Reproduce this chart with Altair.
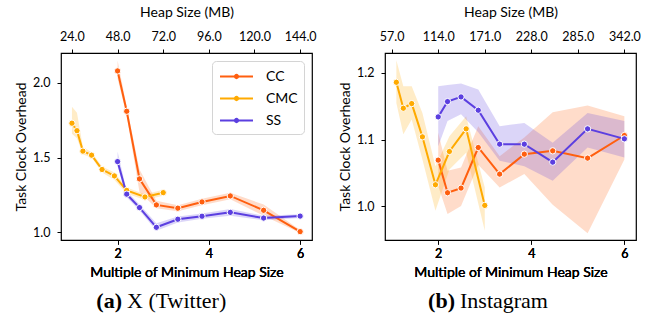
import altair as alt
import pandas as pd

series_names = ["CC", "CMC", "SS"]
series_colors = ["#FF5F0F", "#FFAA00", "#5B3FE0"]

# ---------------- Panel (a): X (Twitter) ----------------
a_min_heap = 24
a_cc_x = [2.0, 2.2, 2.48, 2.85, 3.32, 3.85, 4.47, 5.2, 6.0]
a_cc_y = [2.08, 1.81, 1.357, 1.183, 1.161, 1.203, 1.243, 1.147, 1.004]
a_cc_lo = [2.03, 1.78, 1.27, 1.16, 1.14, 1.18, 1.22, 1.11, 0.995]
a_cc_hi = [2.15, 1.84, 1.42, 1.21, 1.18, 1.225, 1.265, 1.185, 1.015]

a_cmc_x = [1.0, 1.11, 1.24, 1.43, 1.66, 1.93, 2.2, 2.6, 3.0]
a_cmc_y = [1.73, 1.68, 1.543, 1.516, 1.42, 1.377, 1.28, 1.236, 1.265]
a_cmc_lo = [1.66, 1.63, 1.52, 1.50, 1.40, 1.35, 1.26, 1.215, 1.245]
a_cmc_hi = [1.84, 1.80, 1.57, 1.535, 1.44, 1.40, 1.30, 1.255, 1.285]

a_ss_x = [2.0, 2.2, 2.48, 2.85, 3.32, 3.85, 4.47, 5.2, 6.0]
a_ss_y = [1.473, 1.255, 1.165, 1.033, 1.087, 1.107, 1.133, 1.095, 1.108]
a_ss_lo = [1.44, 1.235, 1.145, 1.01, 1.065, 1.09, 1.11, 1.08, 1.095]
a_ss_hi = [1.54, 1.275, 1.185, 1.06, 1.105, 1.125, 1.155, 1.11, 1.12]

# ---------------- Panel (b): Instagram ----------------
b_min_heap = 57
b_cc_x = [2.0, 2.2, 2.49, 2.86, 3.32, 3.85, 4.46, 5.21, 6.0]
b_cc_y = [1.069, 1.020, 1.027, 1.088, 1.048, 1.078, 1.083, 1.072, 1.106]
b_cc_lo = [1.03, 0.988, 1.0, 1.062, 1.028, 1.048, 1.002, 0.959, 1.07]
b_cc_hi = [1.11, 1.053, 1.058, 1.12, 1.075, 1.103, 1.141, 1.151, 1.135]

b_cmc_x = [1.1, 1.25, 1.43, 1.66, 1.94, 2.24, 2.6, 3.0]
b_cmc_y = [1.186, 1.147, 1.154, 1.104, 1.032, 1.082, 1.116, 1.001]
b_cmc_lo = [1.155, 1.108, 1.13, 1.07, 0.993, 1.055, 1.08, 0.963]
b_cmc_hi = [1.219, 1.18, 1.18, 1.14, 1.06, 1.105, 1.135, 1.028]

b_ss_x = [2.0, 2.2, 2.49, 2.86, 3.32, 3.85, 4.46, 5.21, 6.0]
b_ss_y = [1.134, 1.157, 1.164, 1.144, 1.093, 1.093, 1.066, 1.116, 1.101]
b_ss_lo = [1.09, 1.128, 1.138, 1.111, 1.068, 1.06, 1.038, 1.088, 1.073]
b_ss_hi = [1.18, 1.182, 1.184, 1.175, 1.12, 1.125, 1.095, 1.14, 1.128]

bottom_ticks = [2, 4, 6]
top_ticks = [1, 2, 3, 4, 5, 6]
a_y_ticks = [1.0, 1.5, 2.0]
b_y_ticks = [1.0, 1.1, 1.2]

SANS = "Lato"
SERIF = "Liberation Serif"
W, H = 251, 187

# wide line-with-dot legend glyph (path drawn in units of sqrt(size)/2)
legend_symbol = "M-2,0L2,0M-0.2,0A0.2,0.2,0,1,1,0.2,0A0.2,0.2,0,1,1,-0.2,0Z"
color_of = dict(zip(series_names, series_colors))


def make_df(parts):
    rows = []
    for name, xs, ys, los, his in parts:
        for x, y, lo, hi in zip(xs, ys, los, his):
            rows.append({"x": x, "y": y, "lo": lo, "hi": hi, "gc": name, "col": color_of[name]})
    return pd.DataFrame(rows)


def bottom_axis():
    return alt.Axis(orient="bottom", values=bottom_ticks, format="d",
                    title="Multiple of Minimum Heap Size", titleFontWeight="normal",
                    labelPadding=3, titlePadding=6)


def left_axis(yticks):
    return alt.Axis(values=yticks, format=".1f", title="Task Clock Overhead",
                    titleFontWeight="normal", labelPadding=7, titlePadding=4)


def panel(df, xdom, ydom, yticks, min_heap, show_legend, cap_tag, cap_text, tag_x, text_x):
    xscale = alt.Scale(domain=xdom, nice=False, zero=False)
    yscale = alt.Scale(domain=ydom, nice=False, zero=False)
    cscale = alt.Scale(domain=series_names, range=series_colors)
    xb = alt.X("x:Q", scale=xscale, axis=bottom_axis())
    ya = alt.Y("y:Q", scale=yscale, axis=left_axis(yticks))

    band = alt.Chart(df).mark_area(opacity=0.22).encode(
        x=xb,
        y=alt.Y("lo:Q", scale=yscale, axis=left_axis(yticks)),
        y2="hi:Q",
        fill=alt.Fill("col:N", scale=None),
        detail="gc:N",
    )
    if show_legend:
        leg = alt.Legend(title=None, orient="top-right", offset=8, fillColor="white",
                         strokeColor="#d4d4d4", cornerRadius=4, padding=6,
                         labelFont=SANS, labelFontSize=14, labelColor="black",
                         symbolType=legend_symbol, symbolSize=272, symbolStrokeWidth=2,
                         symbolOffset=9, rowPadding=5, labelOffset=20)
    else:
        leg = None
    line = alt.Chart(df).mark_line(strokeWidth=2).encode(
        x=xb, y=ya, color=alt.Color("gc:N", scale=cscale, legend=leg)
    )
    pts = alt.Chart(df).mark_point(filled=True, size=40, stroke="white",
                                   strokeWidth=1, opacity=1).encode(
        x=xb, y=ya, fill=alt.Fill("col:N", scale=None), detail="gc:N"
    )
    top = alt.Chart(df).mark_point(opacity=0).encode(
        x=alt.X("x:Q", scale=xscale,
                axis=alt.Axis(orient="top", values=top_ticks,
                              labelExpr=f"format(datum.value*{min_heap}, '.1f')",
                              title="Heap Size (MB)", titleFontWeight="normal",
                              labelPadding=6, titlePadding=11)),
        y=ya,
    )
    cap = pd.DataFrame({"tag": [cap_tag], "txt": [cap_text]})
    tag = alt.Chart(cap).mark_text(font=SERIF, fontSize=22, fontWeight="bold",
                                   align="right", baseline="alphabetic", color="black").encode(
        x=alt.value(tag_x), y=alt.value(255), text="tag:N")
    txt = alt.Chart(cap).mark_text(font=SERIF, fontSize=22, align="left",
                                   baseline="alphabetic", color="black").encode(
        x=alt.value(text_x), y=alt.value(255), text="txt:N")
    return alt.layer(band, line, pts, top, tag, txt).resolve_axis(x="independent").properties(
        width=W, height=H)


df_a = make_df([
    ("CC", a_cc_x, a_cc_y, a_cc_lo, a_cc_hi),
    ("CMC", a_cmc_x, a_cmc_y, a_cmc_lo, a_cmc_hi),
    ("SS", a_ss_x, a_ss_y, a_ss_lo, a_ss_hi),
])
df_b = make_df([
    ("CC", b_cc_x, b_cc_y, b_cc_lo, b_cc_hi),
    ("CMC", b_cmc_x, b_cmc_y, b_cmc_lo, b_cmc_hi),
    ("SS", b_ss_x, b_ss_y, b_ss_lo, b_ss_hi),
])

left = panel(df_a, [0.76, 6.26], [0.948, 2.2], a_y_ticks, a_min_heap, True,
             "(a)", "X (Twitter)", 61, 66)
right = panel(df_b, [0.856, 6.25], [0.949, 1.23], b_y_ticks, b_min_heap, False,
              "(b)", "Instagram", 70, 75)

chart = alt.hconcat(left, right, spacing=20).resolve_scale(
    color="independent"
).resolve_legend(
    color="independent"
).properties(
    padding={"left": 13, "top": 4, "right": 4, "bottom": 2}
).configure_view(
    stroke="black", strokeWidth=1.2
).configure_axis(
    domain=False, grid=False, ticks=True, tickColor="black", tickSize=4,
    labelFont=SANS, labelFontSize=12.5, labelColor="black",
    titleFont=SANS, titleFontSize=14, titleFontWeight="normal", titleColor="black",
)

chart.save("out.html", embed_options={"renderer": "svg", "actions": False})
